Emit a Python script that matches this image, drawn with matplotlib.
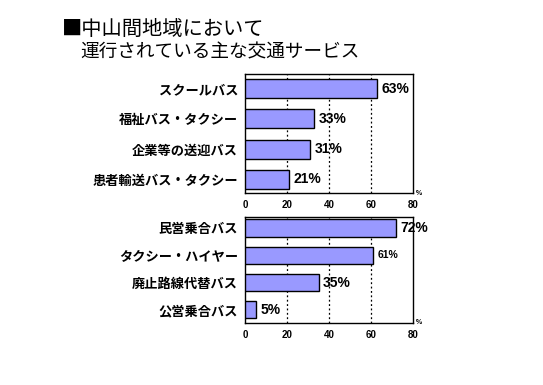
import matplotlib
matplotlib.use("Agg")
import matplotlib.pyplot as plt

plt.rcParams['font.family'] = ['Noto Sans CJK JP', 'DejaVu Sans']

title_line1 = "■中山間地域において"
title_line2 = "運行されている主な交通サービス"

top_labels = ["スクールバス", "福祉バス・タクシー", "企業等の送迎バス", "患者輸送バス・タクシー"]
top_values = [63, 33, 31, 21]

bottom_labels = ["民営乗合バス", "タクシー・ハイヤー", "廃止路線代替バス", "公営乗合バス"]
bottom_values = [72, 61, 35, 5]

xticks = [0, 20, 40, 60, 80]

W, H = 543, 385
fig = plt.figure(figsize=(W / 100, H / 100), dpi=100)

fig.text(62 / W, 1 - 29 / H, title_line1, fontsize=14.6, va='center', ha='left')
fig.text(80 / W, 1 - 52 / H, title_line2, fontsize=13.4, va='center', ha='left')


def panel(rect, labels, values, ylim, small_idx=None):
    ax = fig.add_axes(rect)
    y = list(range(len(values)))
    ax.barh(y, values, height=0.63, color='#9999ff', edgecolor='black', linewidth=1, zorder=3)
    ax.set_xlim(0, 80)
    ax.set_ylim(*ylim)
    ax.set_yticks(y)
    ax.set_yticklabels(labels, fontsize=9.5, fontweight='bold')
    ax.set_xticks(xticks)
    ax.set_xticklabels([str(t) for t in xticks], fontsize=7, fontweight='bold',
                       family=['Liberation Sans', 'DejaVu Sans'])
    ax.tick_params(axis='y', length=0, pad=5)
    ax.tick_params(axis='x', length=0, pad=5)
    for v in [20, 40, 60]:
        ax.axvline(v, color='black', linestyle=(0, (1.5, 2)), linewidth=0.9, zorder=1)
    for s in ax.spines.values():
        s.set_linewidth(1)
    for i, v in enumerate(values):
        fs = 7.5 if i == small_idx else 10
        ax.text(v + 2.2, i, f"{v}%", fontsize=fs, fontweight='bold', va='center', ha='left',
                family=['Liberation Sans', 'DejaVu Sans'], zorder=4)
    ax.text(81.5, ylim[0] + (ylim[0] - ylim[1]) * 0.03, "%", fontsize=5, fontweight='bold',
            va='bottom', ha='left', family=['Liberation Sans', 'DejaVu Sans'], clip_on=False)
    return ax


panel([245 / W, 1 - 193 / H, 168 / W, 119 / H], top_labels, top_values, (3.45, -0.48))
panel([245 / W, 1 - 323 / H, 168 / W, 106 / H], bottom_labels, bottom_values, (3.48, -0.4), small_idx=1)

fig.savefig("out.png", dpi=100)
